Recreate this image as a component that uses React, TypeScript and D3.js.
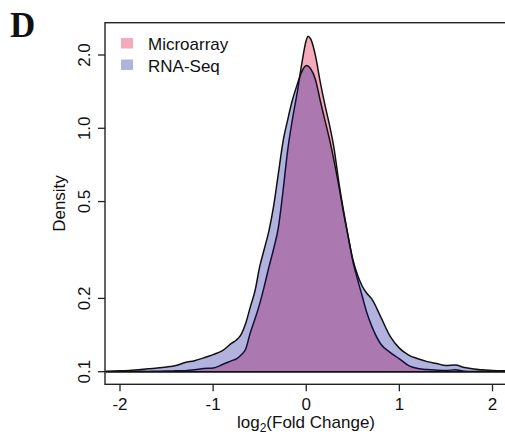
import React from "react";
import * as d3 from "d3";

const xs = [-2.15, -2.0, -1.9, -1.8, -1.7, -1.6, -1.5, -1.4, -1.3, -1.2, -1.1, -1.0, -0.9, -0.8, -0.75, -0.7, -0.65, -0.6, -0.55, -0.5, -0.45, -0.4, -0.35, -0.3, -0.25, -0.2, -0.15, -0.1, -0.05, 0, 0.02, 0.05, 0.1, 0.15, 0.2, 0.25, 0.3, 0.35, 0.4, 0.45, 0.5, 0.55, 0.6, 0.65, 0.7, 0.8, 0.9, 1.0, 1.1, 1.2, 1.3, 1.4, 1.5, 1.6, 1.7, 1.8, 1.9, 2.0, 2.15];

const microarray = [0.1, 0.1003, 0.1002, 0.1004, 0.1003, 0.1005, 0.1006, 0.1008, 0.101, 0.1018, 0.103, 0.1035, 0.107, 0.111, 0.113, 0.117, 0.124, 0.145, 0.165, 0.19, 0.225, 0.27, 0.32, 0.39, 0.55, 0.81, 1.08, 1.38, 1.82, 2.3, 2.39, 2.32, 1.98, 1.55, 1.25, 1.03, 0.82, 0.6, 0.46, 0.36, 0.285, 0.24, 0.205, 0.175, 0.155, 0.13, 0.12, 0.113, 0.106, 0.103, 0.102, 0.1015, 0.1012, 0.1018, 0.1005, 0.1003, 0.1004, 0.1002, 0.1];

const rnaSeq = [0.1005, 0.1008, 0.1012, 0.1018, 0.1028, 0.1035, 0.1045, 0.106, 0.109, 0.111, 0.114, 0.1175, 0.122, 0.131, 0.135, 0.142, 0.158, 0.185, 0.215, 0.27, 0.32, 0.38, 0.48, 0.65, 0.88, 1.08, 1.3, 1.5, 1.7, 1.81, 1.8, 1.75, 1.58, 1.3, 1.08, 0.9, 0.73, 0.58, 0.45, 0.36, 0.29, 0.25, 0.225, 0.21, 0.2, 0.168, 0.14, 0.125, 0.117, 0.113, 0.11, 0.108, 0.106, 0.1065, 0.104, 0.1025, 0.1018, 0.1012, 0.1008];

const xTicks = [-2, -1, 0, 1, 2];
const yTicks = [0.1, 0.2, 0.5, 1.0, 2.0];
const yTickLabels = ["0.1", "0.2", "0.5", "1.0", "2.0"];
const seriesNames = ["Microarray", "RNA-Seq"];

export default function App() {
  const W = 505, H = 437;
  const left = 105, right = 507, top = 22.7, bottom = 384.3;
  const x = d3.scaleLinear().domain([-2, 2]).range([120, 492.5]);
  const y = d3.scaleLog().domain([0.1, 2]).range([371.7, 55]);

  const microData = xs.map((v, i) => ({ x: v, v: microarray[i] }));
  const rnaData = xs.map((v, i) => ({ x: v, v: rnaSeq[i] }));

  const area = d3
    .area<{ x: number; v: number }>()
    .x((d) => x(d.x))
    .y0(y(0.1))
    .y1((d) => y(d.v))
    .curve(d3.curveMonotoneX);

  const font = "'Liberation Sans', Arial, Helvetica, sans-serif";
  const microFill = "#F5AABC";
  const rnaFill = "rgba(14,14,152,0.32)";

  return (
    <svg
      width={W}
      height={H}
      style={{ position: "absolute", left: 0, top: 0, background: "#fff" }}
      fontFamily={font}
    >
      <defs>
        <clipPath id="plotclip">
          <rect x={left} y={top} width={right - left} height={bottom - top} />
        </clipPath>
      </defs>
      <rect x={0} y={0} width={W} height={H} fill="#fff" />
      <g clipPath="url(#plotclip)">
        <path d={area(microData) || ""} fill={microFill} stroke="#111" strokeWidth={1.5} strokeLinejoin="round" />
        <path d={area(rnaData) || ""} fill={rnaFill} stroke="#111" strokeWidth={1.5} strokeLinejoin="round" />
      </g>
      <rect x={left} y={top} width={right - left} height={bottom - top} fill="none" stroke="#222" strokeWidth={1.4} />

      {xTicks.map((t) => (
        <g key={"x" + t}>
          <line x1={x(t)} x2={x(t)} y1={bottom} y2={bottom + 7} stroke="#222" strokeWidth={1.3} />
          <text x={x(t)} y={410} fontSize={17} textAnchor="middle" fill="#111">
            {t}
          </text>
        </g>
      ))}
      {yTicks.map((t, i) => (
        <g key={"y" + t}>
          <line x1={left - 7} x2={left} y1={y(t)} y2={y(t)} stroke="#222" strokeWidth={1.3} />
          <text
            transform={`translate(90,${y(t)}) rotate(-90)`}
            fontSize={17}
            textAnchor="middle"
            fill="#111"
          >
            {yTickLabels[i]}
          </text>
        </g>
      ))}

      <text transform={`translate(65,${(top + bottom) / 2}) rotate(-90)`} fontSize={17} textAnchor="middle" fill="#111">
        Density
      </text>
      <text x={(left + right) / 2} y={428} fontSize={17} textAnchor="middle" fill="#111">
        log
        <tspan fontSize={12} dy={4}>2</tspan>
        <tspan dy={-4}>(Fold Change)</tspan>
      </text>

      <rect x={121} y={38} width={12} height={10.5} fill={microFill} />
      <text x={148} y={50} fontSize={17} fill="#111">{seriesNames[0]}</text>
      <rect x={121} y={59.5} width={12} height={10.5} fill={rnaFill} />
      <text x={148} y={71.5} fontSize={17} fill="#111">{seriesNames[1]}</text>

      <text x={10} y={36.7} fontSize={35} fontWeight="bold" fontFamily="'Liberation Serif', 'Times New Roman', serif" fill="#111">
        D
      </text>
    </svg>
  );
}
